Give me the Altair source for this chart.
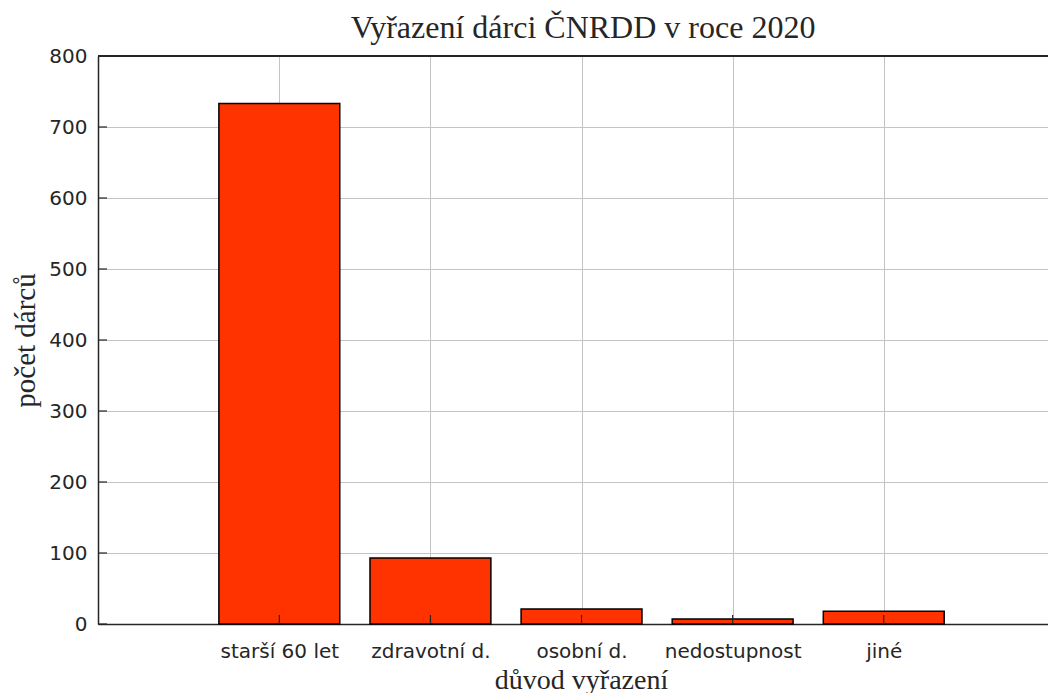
import json
import altair as alt
import pandas as pd

# ---- data ----
categories = ["starší 60 let", "zdravotní d.", "osobní d.", "nedostupnost", "jiné"]
positions = [1, 2, 3, 4, 5]
values = [733, 93, 21, 7, 18]
y_ticks = [0, 100, 200, 300, 400, 500, 600, 700, 800]
x_limits = [-0.2, 6.087]
y_limits = [0, 800]

title_text = "Vyřazení dárci ČNRDD v roce 2020"
x_title = "důvod vyřazení"
y_title = "počet dárců"

bar_width = 0.8

df = pd.DataFrame({"cat": categories, "pos": positions, "value": values})
ticks_df = pd.DataFrame({"tick": y_ticks})

W, H = 950, 568
AXIS_COLOR = "#262626"
GRID_COLOR = "#c4c4c4"
SANS = "DejaVu Sans"
SERIF = "Liberation Serif"

label_expr = json.dumps(categories) + "[datum.value - 1]"

x_scale = alt.Scale(domain=x_limits, nice=False, zero=False)
y_scale = alt.Scale(domain=y_limits, nice=False, zero=False)

x_axis = alt.Axis(
    values=positions,
    labelExpr=label_expr,
    title=x_title,
    grid=True,
    gridColor=GRID_COLOR,
    gridWidth=1,
    ticks=False,
    domain=True,
    domainColor=AXIS_COLOR,
    domainWidth=1.5,
    labelFont=SANS,
    labelFontSize=20,
    labelColor=AXIS_COLOR,
    labelPadding=17,
    labelFlush=False,
    labelOverlap=False,
    labelBound=False,
    titleFont=SERIF,
    titleFontSize=28,
    titleFontWeight="normal",
    titleColor=AXIS_COLOR,
    titleBaseline="alphabetic",
    titleAnchor="start",
    titleAlign="center",
    titleX=483,
    titleY=64,
)

y_axis = alt.Axis(
    values=y_ticks,
    title=y_title,
    grid=True,
    gridColor=GRID_COLOR,
    gridWidth=1,
    ticks=False,
    domain=True,
    domainColor=AXIS_COLOR,
    domainWidth=1.5,
    labelFont=SANS,
    labelFontSize=20,
    labelColor=AXIS_COLOR,
    labelPadding=11,
    labelFlush=False,
    labelOverlap=False,
    labelBound=False,
    titleFont=SERIF,
    titleFontSize=29,
    titleFontWeight="normal",
    titleColor=AXIS_COLOR,
    titleAngle=270,
    titleBaseline="alphabetic",
    titleAlign="center",
    titleX=-64,
    titleY=284,
)

base = alt.Chart(df)

bars = base.transform_calculate(
    x0=f"datum.pos - {bar_width / 2}",
    x1=f"datum.pos + {bar_width / 2}",
).mark_bar(color="#ff3300", stroke="#000000", strokeWidth=1.5).encode(
    x=alt.X("x0:Q", scale=x_scale, axis=x_axis),
    x2="x1:Q",
    y=alt.Y("value:Q", scale=y_scale, axis=y_axis),
    y2=alt.datum(0),
)

x_ticks = base.mark_rule(color=AXIS_COLOR, strokeWidth=1.2).encode(
    x=alt.X("pos:Q", scale=x_scale, axis=x_axis),
    y=alt.value(H),
    y2=alt.value(H - 9),
)

y_tick_marks = alt.Chart(ticks_df).mark_rule(color=AXIS_COLOR, strokeWidth=1.2).encode(
    y=alt.Y("tick:Q", scale=y_scale, axis=y_axis),
    x=alt.value(0),
    x2=alt.value(9),
)

top_border = alt.Chart(ticks_df).mark_rule(color=AXIS_COLOR, strokeWidth=1.5).encode(
    x=alt.value(0),
    x2=alt.value(W),
    y=alt.value(0),
)

chart = alt.layer(bars, x_ticks, y_tick_marks, top_border).properties(
    width=W,
    height=H,
    title=alt.TitleParams(
        text=title_text,
        font=SERIF,
        fontSize=32,
        fontWeight="normal",
        color=AXIS_COLOR,
        anchor="middle",
        baseline="alphabetic",
        offset=-24,
        dx=10,
    ),
    autosize=alt.AutoSizeParams(type="none"),
    padding={"left": 90, "top": 48, "right": 0, "bottom": 69},
    background="white",
).configure_view(stroke=None)

chart.save("out.html", embed_options={"renderer": "svg", "actions": False})
